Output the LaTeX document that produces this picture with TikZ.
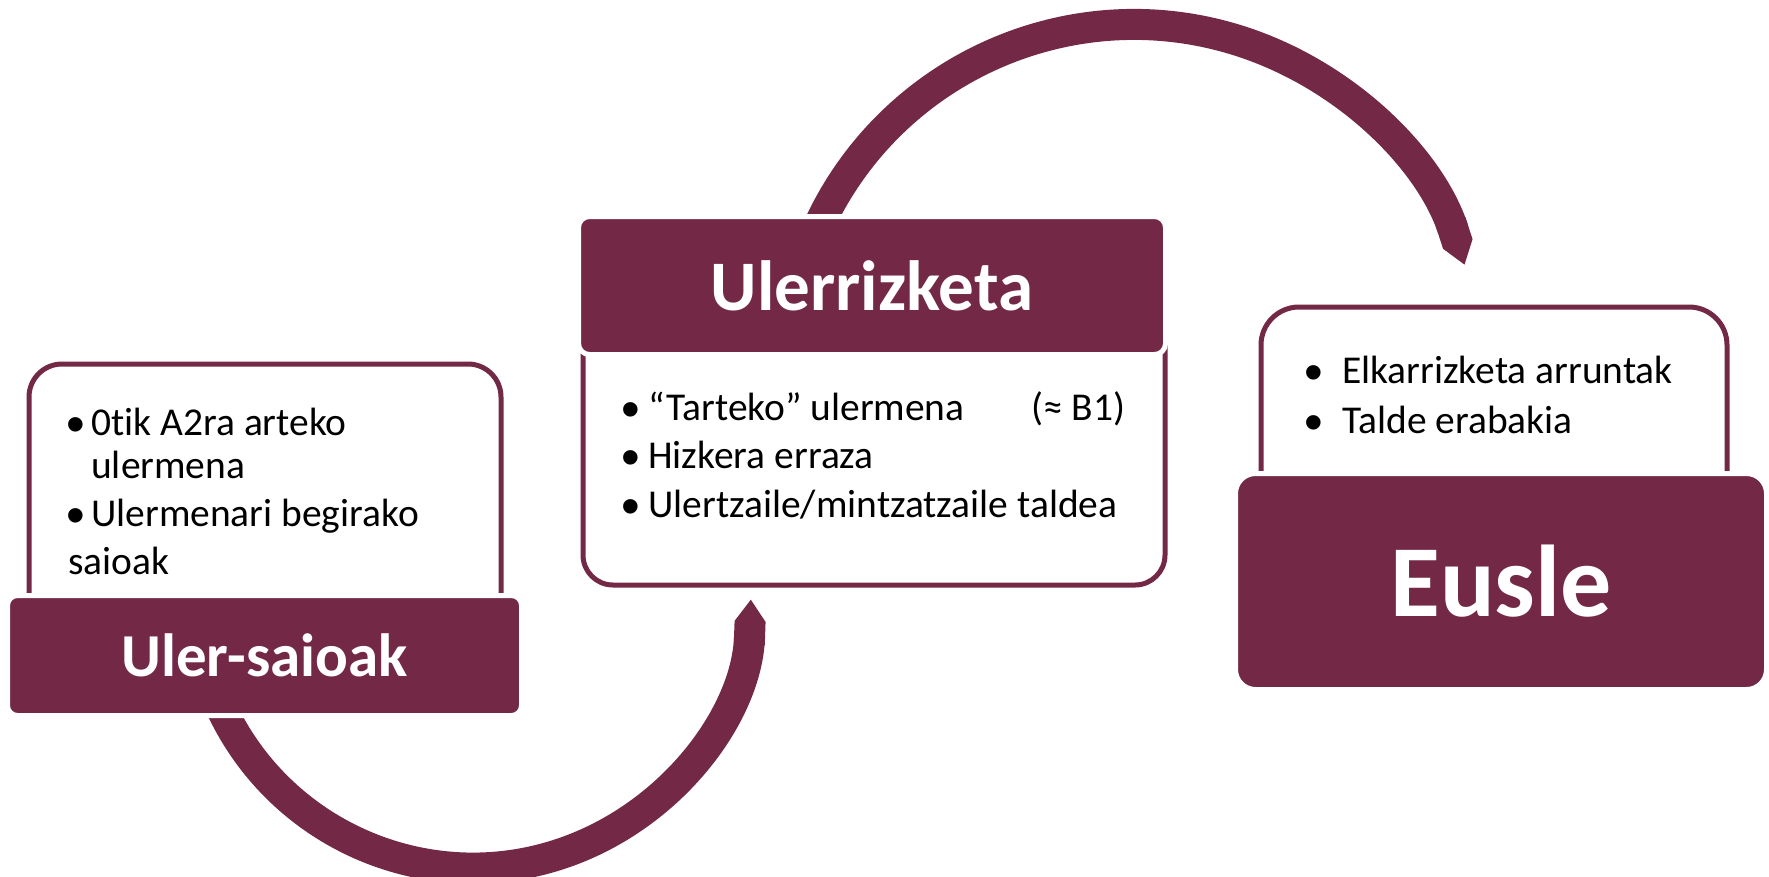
\documentclass[tikz,border=0pt]{standalone}
\usepackage{fontspec}
\setmainfont{Carlito}[Ligatures={NoCommon}]
\newfontfamily\bltfont{Liberation Sans}
\usetikzlibrary{arrows.meta}
\definecolor{berry}{RGB}{115,41,69}
\newcommand{\bitem}[1]{\llap{\smash{\raisebox{-5.25pt}{\bltfont\fontsize{40}{40}\selectfont •}}\hspace{#1}}}

\begin{document}
\begin{tikzpicture}[x=0.75pt,y=0.75pt,yscale=-1,xscale=1,
  darkbox/.style={draw=white,line width=3.75pt,fill=berry,text=white,inner sep=0pt},
  linebox/.style={draw=berry,line width=3.75pt,fill=white,inner sep=0pt},
  itemtext/.style={anchor=base west,inner sep=0pt,font=\fontsize{29.6}{36}\selectfont},
  bandarc/.style={draw=berry,line width=23.25pt}]
  %set diagram left start at 0, and has height of 876
  \useasboundingbox (0,0) rectangle (1769,876);

  %Shape: Arc [lower loop]
  \coordinate (lowloop) at (473,590);
  \draw [bandarc,-{Triangle Cap[length=0pt 0.7]}] (lowloop) ++(160:278) arc [start angle=160, end angle=2, radius=278];
  %Shape: Arc [upper loop]
  \coordinate (highloop) at (1134,372);
  \draw [bandarc,-{Triangle Cap[length=0pt 0.7]}] (highloop) ++(200:347.5) arc [start angle=200, end angle=342, radius=347.5];

  %Rounded Rect [left frame]
  \draw (265,512) node (lftframe) [linebox,rounded corners=24.75pt,minimum width=354pt,minimum height=222pt] {};
  %Rounded Rect [middle frame]
  \draw (874,432.5) node (midframe) [linebox,rounded corners=22.5pt,minimum width=436.5pt,minimum height=228.75pt] {};
  %Rounded Rect [right frame]
  \draw (1494,423.5) node (rgtframe) [linebox,rounded corners=28.5pt,minimum width=349.5pt,minimum height=174.75pt] {};

  %Rounded Rect [titles]
  \draw (264.5,655.5) node (ulersaioak) [darkbox,rounded corners=7.5pt,minimum width=385.5pt,minimum height=90pt,font=\fontsize{45.75}{50}\selectfont\bfseries] {Uler-saioak};
  \draw (872,285.5) node (ulerrizketa) [darkbox,rounded corners=8.25pt,minimum width=440.25pt,minimum height=103.5pt,font=\fontsize{53.3}{58}\selectfont\bfseries] {Ulerrizketa};
  \draw (1501,581.5) node (eusle) [darkbox,rounded corners=15pt,minimum width=398.25pt,minimum height=162pt,font=\fontsize{76.5}{80}\selectfont\bfseries] {Eusle};

  % Text Node
  \draw (91,435) node (lft1) [itemtext] {\bitem{4.3pt}0tik A2ra arteko};
  \draw (91,478) node (lft2) [itemtext] {ulermena};
  \draw (91,526) node (lft3) [itemtext] {\bitem{4.3pt}Ulermenari begirako};
  \draw (68,574) node (lft4) [itemtext] {saioak};
  % Text Node
  \draw (648,420) node (mid1) [itemtext] {\bitem{5.8pt}“Tarteko” ulermena};
  \draw (1031,420) node (midb1) [itemtext] {(≈ B1)};
  \draw (648,468) node (mid2) [itemtext] {\bitem{5.8pt}Hizkera erraza};
  \draw (648,517) node (mid3) [itemtext] {\bitem{5.8pt}Ulertzaile/mintzatzaile taldea};
  % Text Node
  \draw (1342,383) node (rgt1) [itemtext] {\bitem{14pt}Elkarrizketa arruntak};
  \draw (1342,433) node (rgt2) [itemtext] {\bitem{14pt}Talde erabakia};

\end{tikzpicture}
\end{document}
